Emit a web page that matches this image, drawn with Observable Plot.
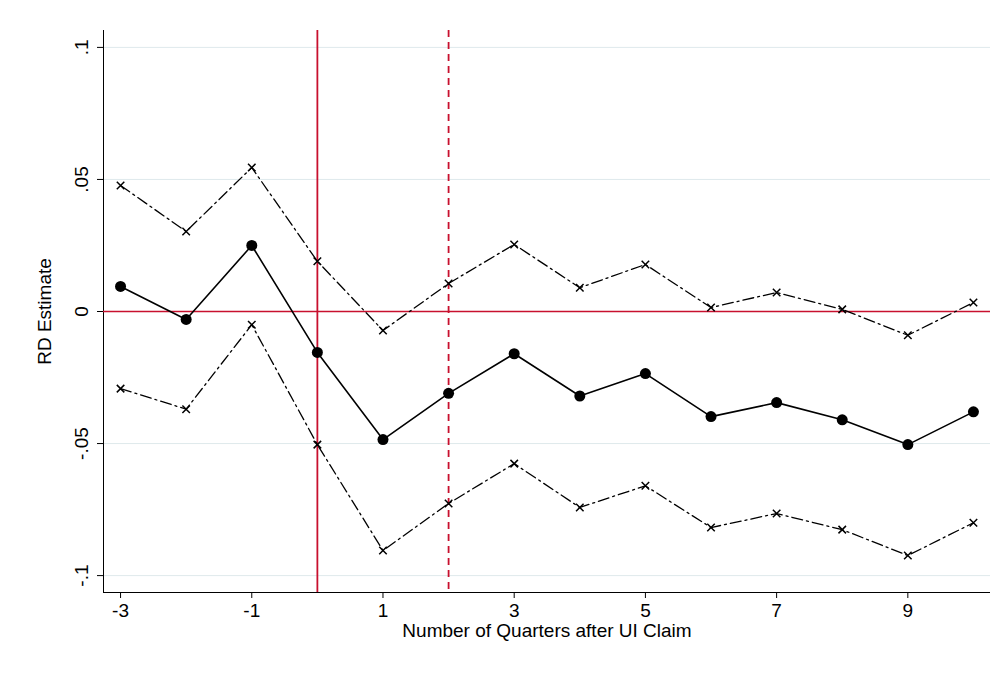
<!DOCTYPE html>
<html><head><meta charset="utf-8">
<script src="https://cdn.jsdelivr.net/npm/d3@7"></script>
<script src="https://cdn.jsdelivr.net/npm/@observablehq/plot@0.6"></script>
<style>body{margin:0;background:#fff}</style>
</head><body><div id="chart"></div>
<script>
const quarters = [-3, -2, -1, 0, 1, 2, 3, 4, 5, 6, 7, 8, 9, 10];
const estimate = [0.0095, -0.003, 0.025, -0.0155, -0.0485, -0.031, -0.016, -0.032, -0.0235, -0.0398, -0.0345, -0.041, -0.0504, -0.038];
const upper = [0.0477, 0.0303, 0.0545, 0.019, -0.0072, 0.0106, 0.0254, 0.009, 0.0178, 0.0015, 0.0072, 0.0008, -0.009, 0.0034];
const lower = [-0.0292, -0.037, -0.005, -0.0504, -0.0905, -0.0727, -0.0576, -0.0742, -0.066, -0.0818, -0.0765, -0.0826, -0.0924, -0.08];
const xTicks = [-3, -1, 1, 3, 5, 7, 9];
const yTicks = [-0.1, -0.05, 0, 0.05, 0.1];
const yTickLabels = ["-.1", "-.05", "0", ".05", ".1"];

const rows = quarters.map((q, i) => ({q, est: estimate[i], hi: upper[i], lo: lower[i]}));
const red = "#c8102e";
const dashDot = "11,4,2,4";

const chart = Plot.plot({
  width: 1003, height: 677,
  marginLeft: 103, marginRight: 13, marginTop: 30, marginBottom: 85,
  style: {fontFamily: "Arial, 'Liberation Sans', sans-serif", fontSize: "19px", background: "#fff"},
  x: {domain: [-3.26, 10.26]},
  y: {domain: [-0.1064, 0.1064]},
  marks: [
    Plot.ruleY(yTicks, {stroke: "#dfe9ec", strokeWidth: 1}),
    Plot.axisX(xTicks, {tickSize: 6, fontSize: 19, tickFormat: d => String(d), label: "Number of Quarters after UI Claim", labelArrow: "none", labelAnchor: "center", labelOffset: 44, color: "#000", tickPadding: 5}),
    Plot.axisY(yTicks, {tickSize: 6, fontSize: 19, tickFormat: d => yTickLabels[yTicks.indexOf(d)], tickRotate: -90, label: "RD Estimate", labelAnchor: "center", labelOffset: 66, labelArrow: "none", color: "#000", tickPadding: 10}),
    Plot.ruleX([-3.26], {stroke: "#000"}),
    Plot.ruleY([-0.1064], {stroke: "#000"}),
    Plot.ruleY([0], {stroke: red, strokeWidth: 1.6}),
    Plot.ruleX([0], {stroke: red, strokeWidth: 1.8}),
    Plot.ruleX([2], {stroke: red, strokeWidth: 1.8, strokeDasharray: "7,5"}),
    Plot.line(rows, {x: "q", y: "hi", stroke: "#000", strokeWidth: 1.3, strokeDasharray: dashDot}),
    Plot.line(rows, {x: "q", y: "lo", stroke: "#000", strokeWidth: 1.3, strokeDasharray: dashDot}),
    Plot.dot(rows, {x: "q", y: "hi", symbol: "times", r: 3.5, stroke: "#000", strokeWidth: 1.5}),
    Plot.dot(rows, {x: "q", y: "lo", symbol: "times", r: 3.5, stroke: "#000", strokeWidth: 1.5}),
    Plot.line(rows, {x: "q", y: "est", stroke: "#000", strokeWidth: 1.6}),
    Plot.dot(rows, {x: "q", y: "est", r: 5.5, fill: "#000"})
  ]
});
document.getElementById("chart").append(chart);
</script></body></html>
